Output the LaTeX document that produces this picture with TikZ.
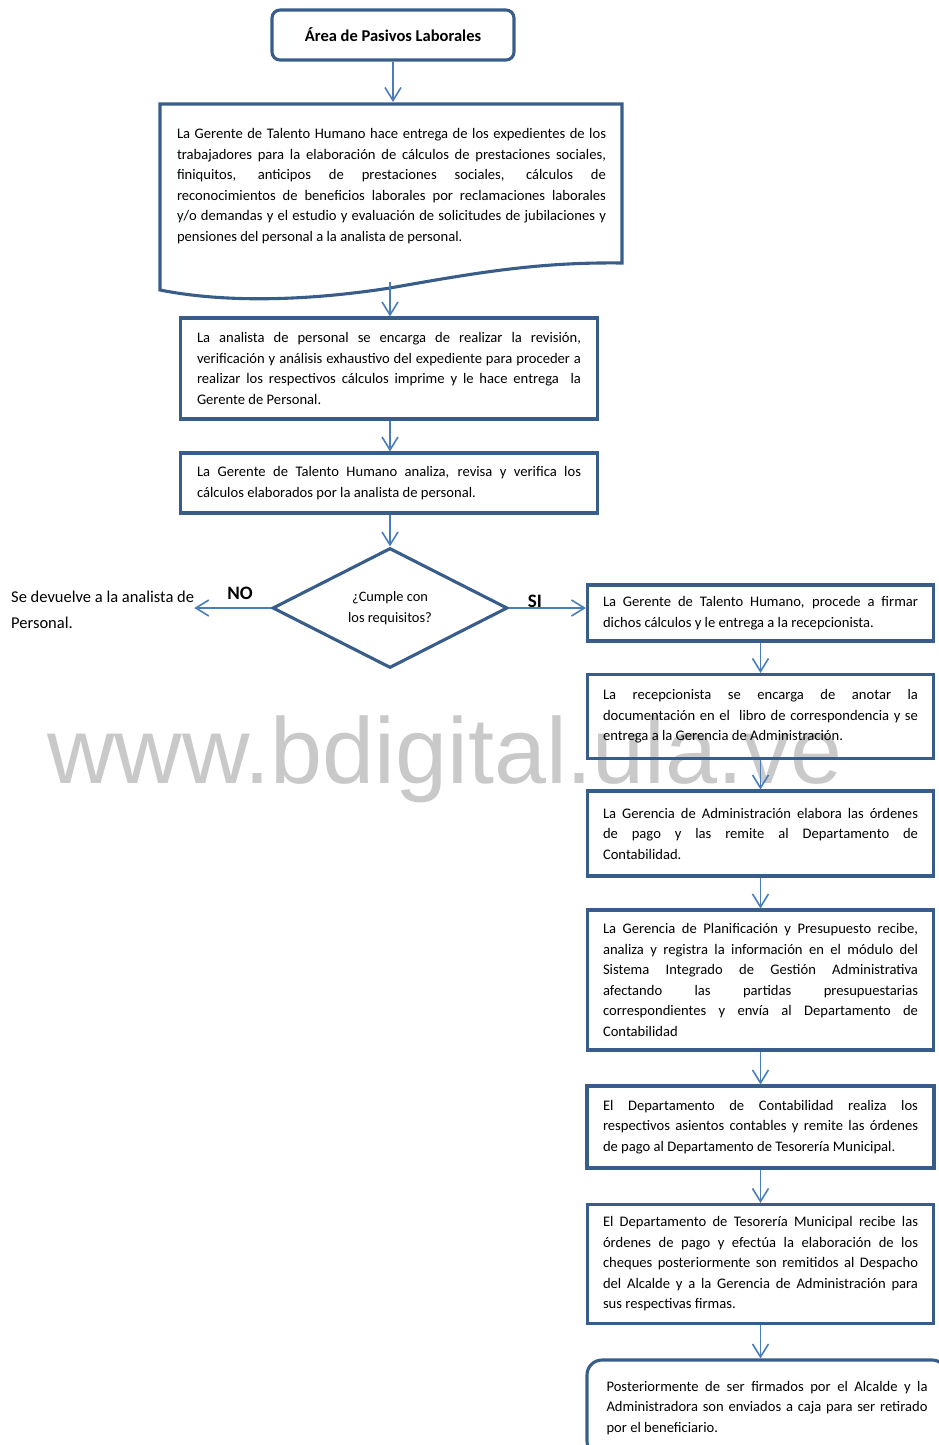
\documentclass[tikz,border=0pt]{standalone}
\usepackage{fontspec}
\setmainfont{Carlito}
\newfontfamily\wmfont{Liberation Sans}
\usetikzlibrary{shapes.geometric,arrows.meta}
\definecolor{boxblue}{RGB}{56,93,138}
\definecolor{linkblue}{RGB}{74,126,187}

\begin{document}
\begin{tikzpicture}[x=1pt, y=-1pt,
    box/.style={draw=boxblue, line width=3.1pt, align=justify, inner sep=0pt,
        font=\fontsize{14.6}{20.5}\selectfont},
    link/.style={draw=linkblue, line width=1.6pt, -{Straight Barb[length=13pt,width=16pt]}},
    lbl/.style={inner sep=0pt, font=\bfseries\fontsize{19}{22}\selectfont}]
    \useasboundingbox (0,0) rectangle (938,1445);

    \node[anchor=base west, inner sep=0pt, text=black!21,
        font=\wmfont\fontsize{93.5}{93.5}\selectfont] (wm) at (47,783) {www.bdigital.ula.ve};

    \coordinate (p1) at (160,104);
    \coordinate (p2) at (622,104);
    \coordinate (p3) at (622,263);
    \coordinate (p4) at (390,288);
    \coordinate (p5) at (160,290);
    \draw[boxblue, line width=3.1pt] (p1) -- (p2) -- (p3)
        .. controls (540,262) and (480,272) .. (p4)
        .. controls (300,302) and (220,302) .. (p5) -- cycle;
    \coordinate (dn) at (393,102);
    \coordinate (ds) at (390,282);

    \node[box, rounded corners=8pt, align=center, minimum width=242pt, minimum height=50pt,
        font=\bfseries\fontsize{16.5}{20}\selectfont] (t) at (393,35) {Área de Pasivos Laborales};

    \node[box, draw=none, text width=429pt] (doc) at (391.5,186) {La Gerente de Talento Humano hace entrega de los expedientes de los\linebreak
        trabajadores para la elaboración de cálculos de prestaciones sociales,\linebreak
        finiquitos, anticipos de prestaciones sociales, cálculos de\linebreak
        reconocimientos de beneficios laborales por reclamaciones laborales\linebreak
        y/o demandas y el estudio y evaluación de solicitudes de jubilaciones y\linebreak
        pensiones del personal a la analista de personal.};

    \node[box, text width=384pt, minimum width=417pt, minimum height=101pt] (b3) at (389,368.5) {La analista de personal se encarga de realizar la revisión,\linebreak
        verificación y análisis exhaustivo del expediente para proceder a\linebreak
        realizar los respectivos cálculos imprime y le hace entrega~ la\linebreak
        Gerente de Personal.};

    \node[box, text width=384pt, minimum width=417pt, minimum height=60pt] (b4) at (389,483) {La Gerente de Talento Humano analiza, revisa y verifica los\linebreak
        cálculos elaborados por la analista de personal.};

    \node[box, diamond, align=center, minimum width=235pt, minimum height=120pt,
        font=\fontsize{14.4}{21}\selectfont] (d) at (390,608) {¿Cumple con\\los requisitos?};

    \node[inner sep=0pt, anchor=west, align=left, font=\fontsize{16.5}{26}\selectfont] (n) at (11,610)
        {Se devuelve a la analista de\\Personal.};
    \node[lbl] (no) at (240,593) {NO};
    \node[lbl] (si) at (535,601) {SI};

    \node[box, text width=315pt, minimum width=346pt, minimum height=56pt] (b5) at (760.5,613) {La Gerente de Talento Humano, procede a firmar\linebreak
        dichos cálculos y le entrega a la recepcionista.};

    \node[box, text width=315pt, minimum width=346pt, minimum height=84pt] (b6) at (760.5,716.5) {La recepcionista se encarga de anotar la\linebreak
        documentación en el~ libro de correspondencia y se\linebreak
        entrega a la Gerencia de Administración.};

    \node[box, text width=315pt, minimum width=346pt, minimum height=85pt] (b7) at (760.5,833.5) {La Gerencia de Administración elabora las órdenes\linebreak
        de pago y las remite al Departamento de\linebreak
        Contabilidad.};

    \node[box, text width=315pt, minimum width=346pt, minimum height=140pt] (b8) at (760.5,980) {La Gerencia de Planificación y Presupuesto recibe,\linebreak
        analiza y registra la información en el módulo del\linebreak
        Sistema Integrado de Gestión Administrativa\linebreak
        afectando las partidas presupuestarias\linebreak
        correspondientes y envía al Departamento de\linebreak
        Contabilidad};

    \node[box, text width=315pt, minimum width=347pt, minimum height=82pt] (b9) at (760.5,1127) {El Departamento de Contabilidad realiza los\linebreak
        respectivos asientos contables y remite las órdenes\linebreak
        de pago al Departamento de Tesorería Municipal.};

    \node[box, text width=315pt, minimum width=346pt, minimum height=119pt] (b10) at (760.5,1264) {El Departamento de Tesorería Municipal recibe las\linebreak
        órdenes de pago y efectúa la elaboración de los\linebreak
        cheques posteriormente son remitidos al Despacho\linebreak
        del Alcalde y a la Gerencia de Administración para\linebreak
        sus respectivas firmas.};

    \node[box, rounded corners=15pt, text width=321pt, minimum width=360pt, minimum height=96pt] (b11) at (767,1408) {Posteriormente de ser firmados por el Alcalde y la\linebreak
        Administradora son enviados a caja para ser retirado\linebreak
        por el beneficiario.};

    \draw[link] (t.south) -- (dn);
    \draw[link] (ds) -- (ds |- b3.north);
    \draw[link] (b3.south -| ds) -- (b4.north -| ds);
    \draw[link] (b4.south -| d.north) -- (d.north);
    \draw[link] (d.west) -- (d.west -| n.east);
    \draw[link] (d.east) -- (d.east -| b5.west);
    \draw[link] (b5) -- (b6);
    \draw[link] (b6) -- (b7);
    \draw[link] (b7) -- (b8);
    \draw[link] (b8) -- (b9);
    \draw[link] (b9) -- (b10);
    \draw[link] (b10.south -| b9.south) -- (b11.north -| b9.south);
\end{tikzpicture}
\end{document}
